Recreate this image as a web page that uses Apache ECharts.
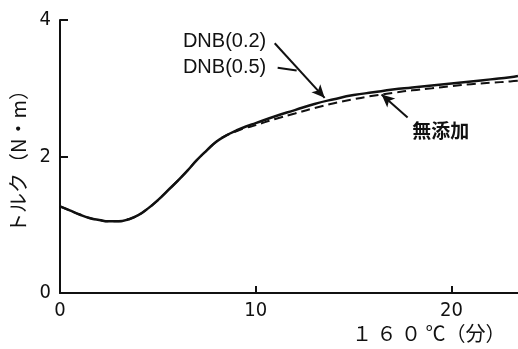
<!DOCTYPE html>
<html>
<head>
<meta charset="utf-8">
<script src="https://cdn.jsdelivr.net/npm/echarts@6/dist/echarts.min.js"></script>
<style>html,body{margin:0;padding:0;background:#fff}#c{width:518px;height:349px}</style>
</head>
<body>
<div id="c"></div>
<script>
const timeMin = [0, 0.5, 1, 1.5, 2, 2.5, 3, 3.5, 4, 4.5, 5, 5.5, 6, 6.5, 7, 7.5, 8, 8.5, 9, 9.5, 10, 11, 12, 13, 14, 15, 16, 17, 18, 19, 20, 21, 22, 23, 23.4];
const torqueDNB = [1.27, 1.21, 1.15, 1.10, 1.07, 1.05, 1.05, 1.08, 1.14, 1.24, 1.36, 1.50, 1.64, 1.79, 1.95, 2.09, 2.22, 2.31, 2.38, 2.44, 2.49, 2.59, 2.68, 2.77, 2.84, 2.90, 2.94, 2.98, 3.01, 3.04, 3.07, 3.10, 3.13, 3.16, 3.18];
const torqueNone = [1.27, 1.21, 1.15, 1.10, 1.07, 1.05, 1.05, 1.08, 1.14, 1.24, 1.36, 1.50, 1.64, 1.79, 1.95, 2.09, 2.22, 2.31, 2.37, 2.42, 2.46, 2.55, 2.63, 2.71, 2.78, 2.84, 2.89, 2.93, 2.97, 3.00, 3.03, 3.06, 3.08, 3.10, 3.11];
const xTicks = [0, 10, 20];
const yTicks = [0, 2, 4];
const labelDNB02 = 'DNB(0.2)';
const labelDNB05 = 'DNB(0.5)';
const labelNone = '無添加';
const xTitle = '１ ６ ０ ℃（分）';
const yTitle = 'トルク（N・m）';

const numFont = "'Liberation Sans Narrow', 'DejaVu Sans Condensed', 'Liberation Sans', sans-serif";
const cjkFont = "'Noto Sans CJK JP', sans-serif";

const chart = echarts.init(document.getElementById('c'), null, {renderer: 'canvas'});
const pair = (xs, ys) => xs.map((x, i) => [x, ys[i]]);

chart.setOption({
  animation: false,
  backgroundColor: '#fff',
  grid: {left: 60, right: 0, top: 20, bottom: 56, containLabel: false},
  xAxis: {
    type: 'value', min: 0, max: 23.4,
    axisLine: {show: true, lineStyle: {color: '#111', width: 2}},
    axisTick: {show: true, inside: true, length: 7, customValues: xTicks.slice(1), lineStyle: {color: '#111', width: 2}},
    axisLabel: {customValues: xTicks, margin: 8, color: '#111', fontSize: 20, fontFamily: numFont},
    splitLine: {show: false}
  },
  yAxis: {
    type: 'value', min: 0, max: 4,
    name: yTitle, nameLocation: 'middle', nameGap: 30,
    nameTextStyle: {fontFamily: cjkFont, fontSize: 20, color: '#111', padding: [0, 0, 0, 0]},
    axisLine: {show: true, lineStyle: {color: '#111', width: 2}},
    axisTick: {show: true, inside: true, length: 8, customValues: yTicks.slice(1), lineStyle: {color: '#111', width: 2}},
    axisLabel: {customValues: yTicks, margin: 9, color: '#111', fontSize: 20, fontFamily: numFont},
    splitLine: {show: false}
  },
  graphic: [{
    type: 'text', left: 352, top: 323,
    style: {text: xTitle, font: "20px 'Noto Sans CJK JP'", fill: '#111'}
  }],
  series: [
    {
      name: labelNone, type: 'line', smooth: true, symbol: 'none',
      data: pair(timeMin, torqueNone),
      lineStyle: {color: '#111', width: 2, type: [9, 5]},
      z: 2,
      markLine: {
        silent: true, symbol: ['none', 'arrow'], symbolSize: [9, 13],
        lineStyle: {color: '#111', width: 2, type: 'solid'},
        label: {show: false},
        data: [
          [{coord: [10.97, 3.66]}, {coord: [13.52, 2.86]}],
          [{coord: [17.76, 2.57]}, {coord: [16.43, 2.91]}]
        ]
      }
    },
    {
      name: labelDNB02, type: 'line', smooth: true, symbol: 'none',
      data: pair(timeMin, torqueDNB),
      lineStyle: {color: '#111', width: 2.5},
      z: 3,
      markLine: {
        silent: true, symbol: ['none', 'none'],
        lineStyle: {color: '#111', width: 2, type: 'solid'},
        label: {show: false},
        data: [
          [{coord: [11.12, 3.30]}, {coord: [12.09, 3.26]}]
        ]
      },
      markPoint: {
        silent: true, symbol: 'circle', symbolSize: 0,
        label: {show: true, position: 'right', distance: 0, formatter: '{b}', color: '#111', fontSize: 20, fontFamily: "'Liberation Sans', sans-serif"},
        data: [
          {name: labelDNB02, coord: [6.28, 3.68]},
          {name: labelDNB05, coord: [6.28, 3.31]},
          {name: labelNone, coord: [18.0, 2.38], label: {fontFamily: cjkFont, fontWeight: 'bold', fontSize: 19}}
        ]
      }
    }
  ]
});
</script>
</body>
</html>
